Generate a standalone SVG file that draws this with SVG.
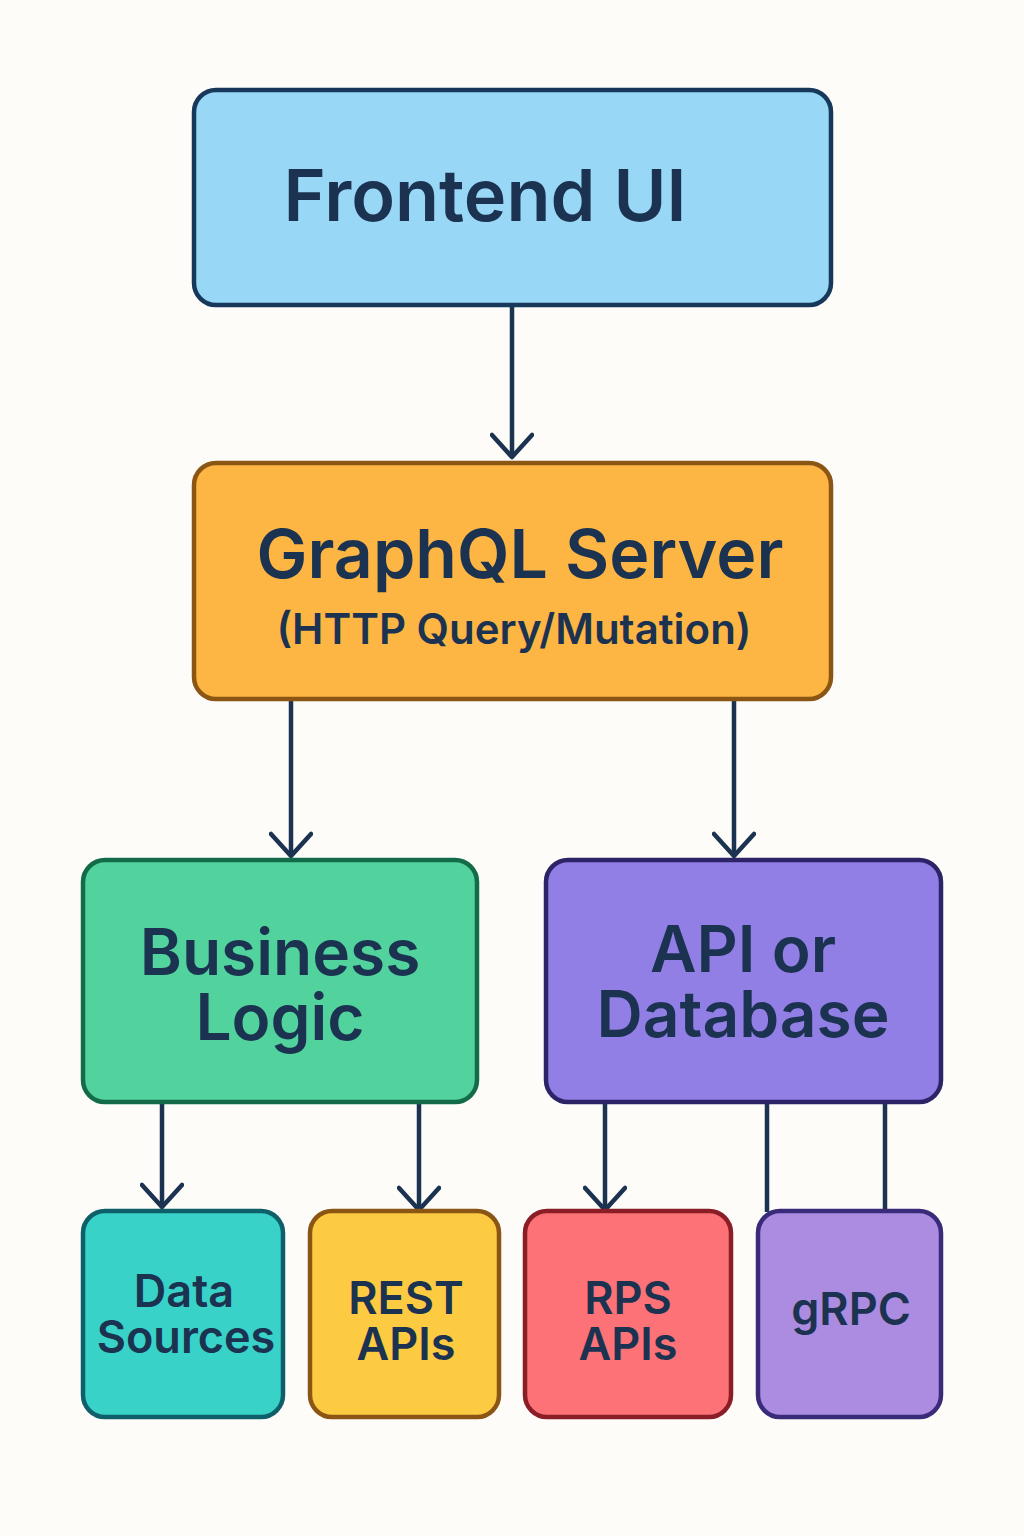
<svg xmlns="http://www.w3.org/2000/svg" width="1024" height="1536" viewBox="0 0 1024 1536">
<defs>
<style>
.t{font-family:Inter,"Noto Sans",sans-serif;font-weight:600;fill:#1b3350;text-anchor:middle}
.box{stroke-width:4.5}
.c{stroke:#1b3350;stroke-width:4.5;fill:none}
</style>
<marker id="ah" viewBox="0 0 28 44" refX="25" refY="22" markerWidth="28" markerHeight="44" markerUnits="userSpaceOnUse" orient="auto">
<path d="M3,2 L25,22 L3,42" fill="none" stroke="#1b3350" stroke-width="4.5" stroke-linecap="round" stroke-linejoin="round"/>
</marker>
</defs>
<rect width="1024" height="1536" fill="#fdfcf8"/>
<g id="connectors">
<path class="c" d="M512,306 V457" marker-end="url(#ah)"/>
<path class="c" d="M291,700 V856" marker-end="url(#ah)"/>
<path class="c" d="M734,700 V856" marker-end="url(#ah)"/>
<path class="c" d="M162,1103 V1207" marker-end="url(#ah)"/>
<path class="c" d="M419,1103 V1210" marker-end="url(#ah)"/>
<path class="c" d="M605,1103 V1210" marker-end="url(#ah)"/>
<path class="c" d="M767,1103 V1212"/>
<path class="c" d="M885,1103 V1212"/>
</g>
<g id="frontend">
<rect class="box" x="194" y="90" width="637" height="215" rx="22" fill="#99d7f7" stroke="#17385a"/>
<text class="t" x="485" y="221" font-size="72">Frontend UI</text>
</g>
<g id="graphql">
<rect class="box" x="194" y="463" width="637" height="236" rx="22" fill="#fdb644" stroke="#8b5514"/>
<text class="t" x="520" y="578" font-size="68">GraphQL Server</text>
<text class="t" x="514" y="644" font-size="42" font-weight="500">(HTTP Query/Mutation)</text>
</g>
<g id="business">
<rect class="box" x="83" y="860" width="394" height="242" rx="22" fill="#52d29d" stroke="#146b4a"/>
<text class="t" x="280" y="975" font-size="64">Business</text>
<text class="t" x="280" y="1040" font-size="64">Logic</text>
</g>
<g id="apidb">
<rect class="box" x="546" y="860" width="395" height="242" rx="22" fill="#927fe6" stroke="#2c2466"/>
<text class="t" x="743" y="972" font-size="64">API or</text>
<text class="t" x="743" y="1037" font-size="64">Database</text>
</g>
<g id="datasources">
<rect class="box" x="83" y="1211" width="200" height="206" rx="22" fill="#38d2c8" stroke="#0f5f6b"/>
<text class="t" x="184" y="1307" font-size="45">Data</text>
<text class="t" x="186" y="1353" font-size="45">Sources</text>
</g>
<g id="rest">
<rect class="box" x="310" y="1211" width="189" height="206" rx="22" fill="#fdcb42" stroke="#8b5514"/>
<text class="t" x="406" y="1314" font-size="45">REST</text>
<text class="t" x="406" y="1360" font-size="45">APIs</text>
</g>
<g id="rps">
<rect class="box" x="525" y="1211" width="206" height="206" rx="22" fill="#fc7276" stroke="#8b1d26"/>
<text class="t" x="628" y="1314" font-size="45">RPS</text>
<text class="t" x="628" y="1360" font-size="45">APIs</text>
</g>
<g id="grpc">
<rect class="box" x="758" y="1211" width="183" height="206" rx="22" fill="#ab8ce0" stroke="#3a2a7a"/>
<text class="t" x="851" y="1325" font-size="45">gRPC</text>
</g>
</svg>
